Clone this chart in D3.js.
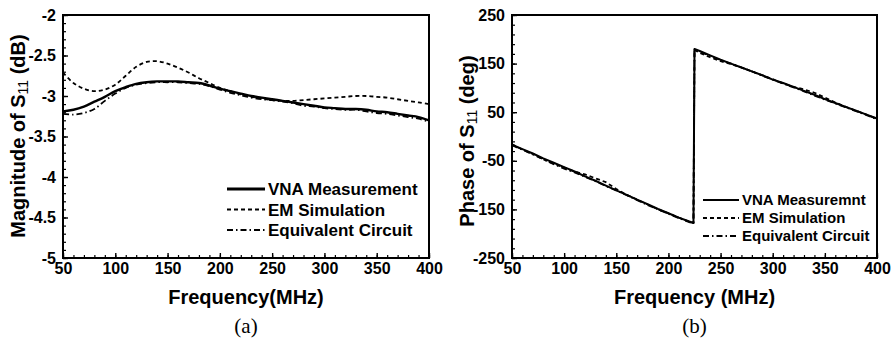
<!DOCTYPE html>
<html>
<head>
<meta charset="utf-8">
<script src="https://cdn.jsdelivr.net/npm/d3@7"></script>
<style>
  body { margin: 0; background: #fff; }
  text { font-family: "Liberation Sans", Arial, sans-serif; font-weight: bold; fill: #000; }
</style>
</head>
<body>
<script>
// ---- data: (a) magnitude of S11, dB
var magFreq = [50,60,70,80,90,100,110,120,130,140,150,160,170,180,190,200,210,220,230,240,250,260,270,280,290,300,310,320,330,340,350,360,370,380,390,400];
var magVNA = [-3.19,-3.17,-3.13,-3.07,-3.01,-2.94,-2.89,-2.85,-2.83,-2.82,-2.82,-2.82,-2.83,-2.84,-2.87,-2.91,-2.94,-2.97,-3.00,-3.02,-3.04,-3.06,-3.08,-3.10,-3.12,-3.14,-3.15,-3.16,-3.16,-3.17,-3.19,-3.20,-3.22,-3.24,-3.26,-3.30];
var magEM = [-2.71,-2.84,-2.91,-2.94,-2.92,-2.86,-2.75,-2.64,-2.58,-2.57,-2.60,-2.65,-2.71,-2.78,-2.84,-2.90,-2.94,-2.98,-3.01,-3.03,-3.05,-3.06,-3.06,-3.05,-3.04,-3.03,-3.02,-3.01,-3.00,-3.00,-3.01,-3.02,-3.04,-3.06,-3.08,-3.10];
var magEC = [-3.22,-3.23,-3.21,-3.16,-3.06,-2.97,-2.90,-2.86,-2.84,-2.83,-2.83,-2.83,-2.84,-2.85,-2.88,-2.92,-2.96,-2.99,-3.02,-3.04,-3.05,-3.07,-3.09,-3.12,-3.13,-3.15,-3.16,-3.17,-3.17,-3.19,-3.21,-3.22,-3.24,-3.26,-3.28,-3.32];

// ---- data: (b) phase of S11, deg
var phFreq = [50,60,70,80,90,100,110,120,130,140,150,160,170,180,190,200,210,220,224,225,230,240,250,260,270,280,290,300,310,320,330,340,350,360,370,380,390,400];
var phVNA = [-17,-26,-35,-45,-54,-63,-72,-82,-91,-101,-111,-120,-130,-139,-149,-158,-167,-175,-178,180,176,167,158,150,142,134,126,117,110,102,94,86,77,69,61,53,45,37];
var phEM = [-16,-27,-36,-47,-56,-64,-72,-78,-86,-94,-108,-120,-130,-140,-150,-158,-167,-175,-178,178,172,163,155,149,142,134,126,118,109,102,97,90,80,70,61,53,45,36];
var phEC = [-18,-27,-37,-47,-57,-66,-74,-83,-92,-102,-111,-121,-131,-141,-150,-159,-168,-176,-179,178,174,166,157,150,142,134,125,117,109,101,93,84,76,68,60,52,44,35];

var xTicks = [50,100,150,200,250,300,350,400];
var magTicks = [-2,-2.5,-3,-3.5,-4,-4.5,-5];
var phTicks = [250,150,50,-50,-150,-250];

var seriesNamesA = ["VNA Measurement","EM Simulation","Equivalent Circuit"];
var seriesNamesB = ["VNA Measuremnt","EM Simulation","Equivalent Circuit"];

var W = 895, H = 344;
var svg = d3.select('body').append('svg').attr('width', W).attr('height', H);

var dashes = [null, "4,3", "6,3,1.5,3"];

function panel(opt) {
  var g = svg.append('g');
  var x = d3.scaleLinear().domain([50,400]).range([opt.left, opt.right]);
  var y = d3.scaleLinear().domain(opt.ydom).range([opt.bottom, opt.top]);

  // minor ticks
  g.append('g').attr('transform','translate(0,'+opt.bottom+')')
    .call(d3.axisBottom(x).tickValues(d3.range(50,401,10)).tickSize(-3).tickSizeOuter(0).tickFormat(''))
    .call(function(s){ s.select('.domain').remove(); s.selectAll('line').attr('stroke-width',1.2); });
  g.append('g').attr('transform','translate('+opt.left+',0)')
    .call(d3.axisLeft(y).tickValues(opt.minor).tickSize(-3).tickSizeOuter(0).tickFormat(''))
    .call(function(s){ s.select('.domain').remove(); s.selectAll('line').attr('stroke-width',1.2); });

  // major ticks + labels
  function styleAxis(s) {
    s.select('.domain').remove();
    s.selectAll('line').attr('stroke-width',1.4);
    s.selectAll('text').style('font-size','16px')
      .style('font-family','"Liberation Sans", Arial, sans-serif').style('font-weight','bold');
  }
  g.append('g').attr('transform','translate(0,'+opt.bottom+')')
    .call(d3.axisBottom(x).tickValues(xTicks).tickSizeInner(-5).tickSizeOuter(0).tickPadding(5).tickFormat(function(d){return String(d);}))
    .call(styleAxis);
  g.append('g').attr('transform','translate('+opt.left+',0)')
    .call(d3.axisLeft(y).tickValues(opt.ticks).tickSizeInner(-5).tickSizeOuter(0).tickPadding(7).tickFormat(function(d){return String(d);}))
    .call(styleAxis);

  // curves
  var line = d3.line().x(function(d){return x(d[0]);}).y(function(d){return y(d[1]);}).curve(opt.curve);
  opt.series.forEach(function(vals, i) {
    var pts = opt.freq.map(function(f, j){ return [f, vals[j]]; });
    g.append('path').attr('d', line(pts)).attr('fill','none').attr('stroke','#000')
      .attr('stroke-width', opt.lw[i]).attr('stroke-dasharray', dashes[i])
      .attr('stroke-linejoin','round');
  });

  // frame
  g.append('rect').attr('x', opt.left).attr('y', opt.top)
    .attr('width', opt.right - opt.left).attr('height', opt.bottom - opt.top)
    .attr('fill','none').attr('stroke','#000').attr('stroke-width',2);

  // legend
  opt.names.forEach(function(n, i) {
    var ly = opt.legY + i * opt.legDy;
    g.append('line').attr('x1', opt.legX).attr('x2', opt.legX + opt.legLen)
      .attr('y1', ly).attr('y2', ly).attr('stroke','#000')
      .attr('stroke-width', i === 0 ? opt.legW0 : 1.8).attr('stroke-dasharray', dashes[i]);
    g.append('text').attr('x', opt.legX + opt.legLen + 3).attr('y', ly).attr('dy','0.36em')
      .style('font-size', opt.legFont + 'px').text(n);
  });

  // x title
  g.append('text').attr('x', (opt.left + opt.right) / 2).attr('y', 304)
    .attr('text-anchor','middle').style('font-size','20px').text(opt.xTitle);

  // y title with subscript
  var yt = g.append('text').attr('transform','translate(' + opt.ytX + ',' + opt.ytY + ') rotate(-90)')
    .attr('text-anchor','middle').style('font-size','20px');
  yt.append('tspan').text(opt.yPre + 'S');
  yt.append('tspan').style('font-size','14px').style('font-weight','normal').attr('dy', 3).text('11');
  yt.append('tspan').attr('dy', -3).text(opt.yPost);

  // panel caption
  svg.append('text').attr('x', (opt.left + opt.right) / 2).attr('y', 333)
    .attr('text-anchor','middle')
    .style('font-family','"Liberation Serif", "Times New Roman", serif').style('font-weight','normal')
    .style('font-size','21px').text(opt.caption);
}

panel({
  left: 63, right: 429, top: 15, bottom: 258,
  ydom: [-5, -2], ticks: magTicks, minor: d3.range(-50, -19, 1).map(function(d){return d/10;}),
  freq: magFreq, series: [magVNA, magEM, magEC], lw: [2.4, 1.8, 1.8],
  curve: d3.curveCatmullRom,
  names: seriesNamesA, legX: 227, legLen: 38, legY: 189, legDy: 20.5, legFont: 17, legW0: 3,
  xTitle: 'Frequency(MHz)', ytX: 25, ytY: 136, yPre: 'Magnitude of ', yPost: ' (dB)',
  caption: '(a)'
});

panel({
  left: 512, right: 877, top: 15, bottom: 258,
  ydom: [-250, 250], ticks: phTicks, minor: d3.range(-250, 251, 20),
  freq: phFreq, series: [phVNA, phEM, phEC], lw: [2, 1.8, 1.8],
  curve: d3.curveLinear,
  names: seriesNamesB, legX: 703, legLen: 36, legY: 200, legDy: 18, legFont: 15, legW0: 2,
  xTitle: 'Frequency (MHz)', ytX: 474, ytY: 141, yPre: 'Phase of ', yPost: ' (deg)',
  caption: '(b)'
});
</script>
</body>
</html>
